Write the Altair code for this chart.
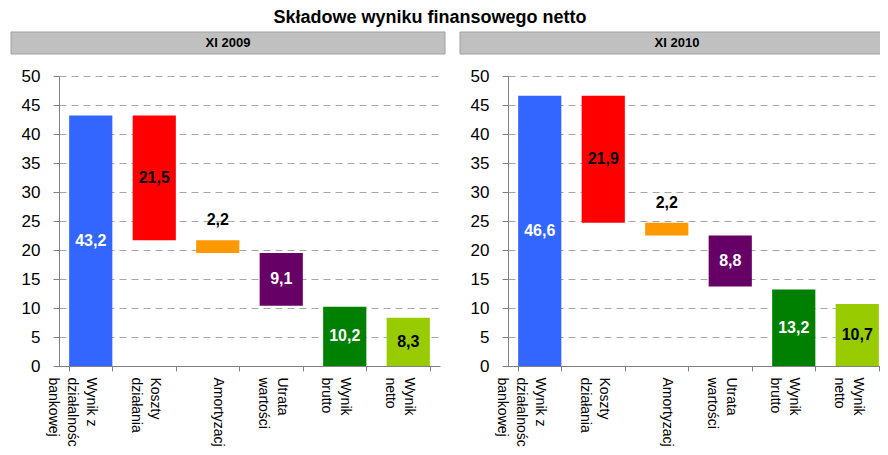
import altair as alt
import pandas as pd

FONT = "Liberation Sans"

title = "Składowe wyniku finansowego netto"
panels = ["XI 2009", "XI 2010"]
categories = ["Wynik z|działalności|bankowej", "Koszty|działania", "Amortyzacja",
              "Utrata|wartości", "Wynik|brutto", "Wynik|netto"]
kinds = ["total", "minus", "minus", "minus", "total", "total"]
values_2009 = [43.2, 21.5, 2.2, 9.1, 10.2, 8.3]
values_2010 = [46.6, 21.9, 2.2, 8.8, 13.2, 10.7]
bar_colors = ["#3366FF", "#FF0000", "#FF9900", "#660066", "#008000", "#99CC00"]
white_label_cats = [categories[0], categories[3], categories[4]]
above_label_cats = [categories[2]]
y_ticks = list(range(0, 51, 5))

PLOT_W, PLOT_H = 381, 290
AXIS_EXT = 48
HEADER_W, HEADER_H = 434, 22


def waterfall(values):
    rows = []
    level = 0.0
    for c, k, v in zip(categories, kinds, values):
        if k == "total":
            lo, hi = 0.0, v
            level = v
        else:
            hi = level
            lo = level - v
            level = lo
        rows.append(dict(cat=c, lo=lo, hi=hi, mid=(lo + hi) / 2,
                         label=f"{v:.1f}".replace(".", ",")))
    return pd.DataFrame(rows)


def panel(name, values):
    df = waterfall(values)
    xscale = alt.Scale(paddingInner=0.32, paddingOuter=0.16)
    xaxis = alt.Axis(title=None, labelAngle=90, labelAlign="left",
                     labelBaseline="middle",
                     labelExpr="split(datum.label, '|')",
                     labelFont=FONT, labelFontSize=14, labelLineHeight=19,
                     labelPadding=6, tickBand="extent", tickSize=5,
                     domainColor="#808080", tickColor="#808080",
                     labelColor="black", grid=False)
    yscale = alt.Scale(domain=[0, 50], nice=False)
    yaxis = alt.Axis(title=None, values=y_ticks, tickCount=11, grid=True,
                     gridDash=[7, 5], gridColor="#A6A6A6",
                     domainColor="#808080", tickColor="#808080",
                     tickSize=6, labelPadding=13, labelFont=FONT,
                     labelFontSize=17, labelColor="black",
                     minExtent=AXIS_EXT, maxExtent=AXIS_EXT)
    x = alt.X("cat:N", sort=categories, scale=xscale, axis=xaxis)
    base = alt.Chart(df)
    bars = base.mark_bar().encode(
        x=x, y=alt.Y("lo:Q", scale=yscale, axis=yaxis), y2="hi:Q",
        color=alt.Color("cat:N", scale=alt.Scale(domain=categories, range=bar_colors),
                        legend=None))
    txt_color = alt.condition(alt.FieldOneOfPredicate(field="cat", oneOf=white_label_cats),
                              alt.value("white"), alt.value("black"))
    inside = base.transform_filter(
        ~alt.FieldOneOfPredicate(field="cat", oneOf=above_label_cats)
    ).mark_text(font=FONT, fontSize=16, fontWeight="bold").encode(
        x=x, y=alt.Y("mid:Q", scale=yscale, axis=yaxis), text="label:N", color=txt_color)
    above = base.transform_filter(
        alt.FieldOneOfPredicate(field="cat", oneOf=above_label_cats)
    ).mark_text(font=FONT, fontSize=16, fontWeight="bold", dy=-20, color="black").encode(
        x=x, y=alt.Y("hi:Q", scale=yscale, axis=yaxis), text="label:N")
    plot = alt.layer(bars, inside, above).properties(width=PLOT_W, height=PLOT_H)

    hdf = pd.DataFrame({"name": [name]})
    hrect = alt.Chart(hdf).mark_rect(fill="#C0C0C0", stroke="#A0A0A0", strokeWidth=1).encode(
        x=alt.value(-AXIS_EXT), x2=alt.value(HEADER_W - AXIS_EXT),
        y=alt.value(0), y2=alt.value(HEADER_H))
    htext = alt.Chart(hdf).mark_text(font=FONT, fontSize=13, fontWeight="bold",
                                     color="black").encode(
        x=alt.value(HEADER_W / 2 - AXIS_EXT), y=alt.value(HEADER_H / 2), text="name:N")
    header = alt.layer(hrect, htext).properties(width=PLOT_W, height=HEADER_H)
    return alt.vconcat(header, plot, spacing=12)


chart = alt.hconcat(panel(panels[0], values_2009), panel(panels[1], values_2010),
                    spacing=13).properties(
    title=alt.TitleParams(title, font=FONT, fontSize=18, fontWeight="bold",
                          anchor="start", dx=263, offset=5, color="black"),
    autosize=alt.AutoSizeParams(type="none"),
    padding={"left": 51, "top": 24, "right": 821, "bottom": 415},
).configure_view(stroke=None)

chart.save("out.html", embed_options={"renderer": "svg", "actions": False})
